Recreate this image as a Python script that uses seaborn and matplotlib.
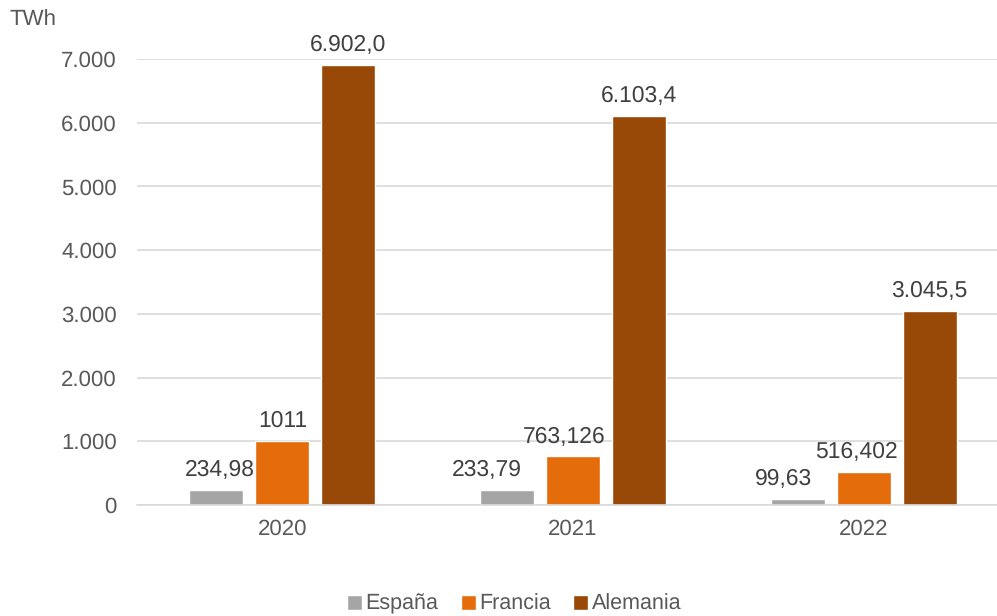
import matplotlib
matplotlib.use("Agg")
import matplotlib.pyplot as plt
import seaborn as sns
import pandas as pd

years = ["2020", "2021", "2022"]
countries = ["España", "Francia", "Alemania"]
espana = [234.98, 233.79, 99.63]
francia = [1011, 763.126, 516.402]
alemania = [6902.0, 6103.4, 3045.5]
espana_labels = ["234,98", "233,79", "99,63"]
francia_labels = ["1011", "763,126", "516,402"]
alemania_labels = ["6.902,0", "6.103,4", "3.045,5"]
yticks = [0, 1000, 2000, 3000, 4000, 5000, 6000, 7000]
ytick_labels = ["0", "1.000", "2.000", "3.000", "4.000", "5.000", "6.000", "7.000"]

colors = ["#A5A5A5", "#E46C0A", "#984807"]
text_color = "#595959"
W, H = 997, 616

# horizontal nudges (pixels) applied to the value labels so they clear neighbouring bars
label_nudge_px = [[3, -20, -14], [0, -9, -7], [0, 0, 0]]

sns.set_style("white")
plt.rcParams["font.family"] = "Liberation Sans"
plt.rcParams["text.hinting"] = "no_hinting"

df = pd.DataFrame({
    "year": years * 3,
    "country": [c for c in countries for _ in years],
    "value": espana + francia + alemania,
})

fig = plt.figure(figsize=(W / 100, H / 100), dpi=100)
# plot area runs slightly past the right edge of the canvas
ax = fig.add_axes([137 / W, 111 / H, 872 / W, 446 / H])

sns.barplot(data=df, x="year", y="value", hue="country", hue_order=countries,
            palette=colors, width=0.681, gap=0.18, ax=ax, saturation=1,
            legend=True, errorbar=None)

pad_pt = 6.5
all_labels = [espana_labels, francia_labels, alemania_labels]
for cont, labels, nudges in zip(ax.containers, all_labels, label_nudge_px):
    anns = ax.bar_label(cont, labels=labels, padding=pad_pt, fontsize=16.5,
                        color="#404040")
    for ann, dx in zip(anns, nudges):
        ann.xyann = (dx * 0.72, pad_pt)

ax.set_ylim(0, 7000)
ax.set_xlim(-0.5, 2.5)
ax.set_yticks(yticks)
ax.set_yticklabels(ytick_labels)
ax.tick_params(axis="both", length=0, labelsize=16, colors=text_color)
ax.tick_params(axis="y", pad=14.5)
ax.tick_params(axis="x", pad=10)
ax.yaxis.grid(True, color="#D9D9D9", linewidth=1.2)
ax.set_axisbelow(True)
for side in ["top", "right", "left"]:
    ax.spines[side].set_visible(False)
ax.spines["bottom"].set_color("#D9D9D9")
ax.spines["bottom"].set_linewidth(1.2)
ax.set_xlabel("")
ax.set_ylabel("")

fig.text(10 / W, 1 - 19 / H, "TWh", fontsize=16, color=text_color,
         ha="left", va="center")

handles, lbls = ax.get_legend_handles_labels()
ax.get_legend().remove()
fig.legend(handles, lbls, loc="center", bbox_to_anchor=(514 / W, 1 - 604 / H),
           ncol=3, frameon=False, fontsize=15.5, handlelength=0.7, handleheight=0.7,
           handletextpad=0.15, columnspacing=1.05, labelcolor=text_color)

fig.savefig("out.png", dpi=100)
